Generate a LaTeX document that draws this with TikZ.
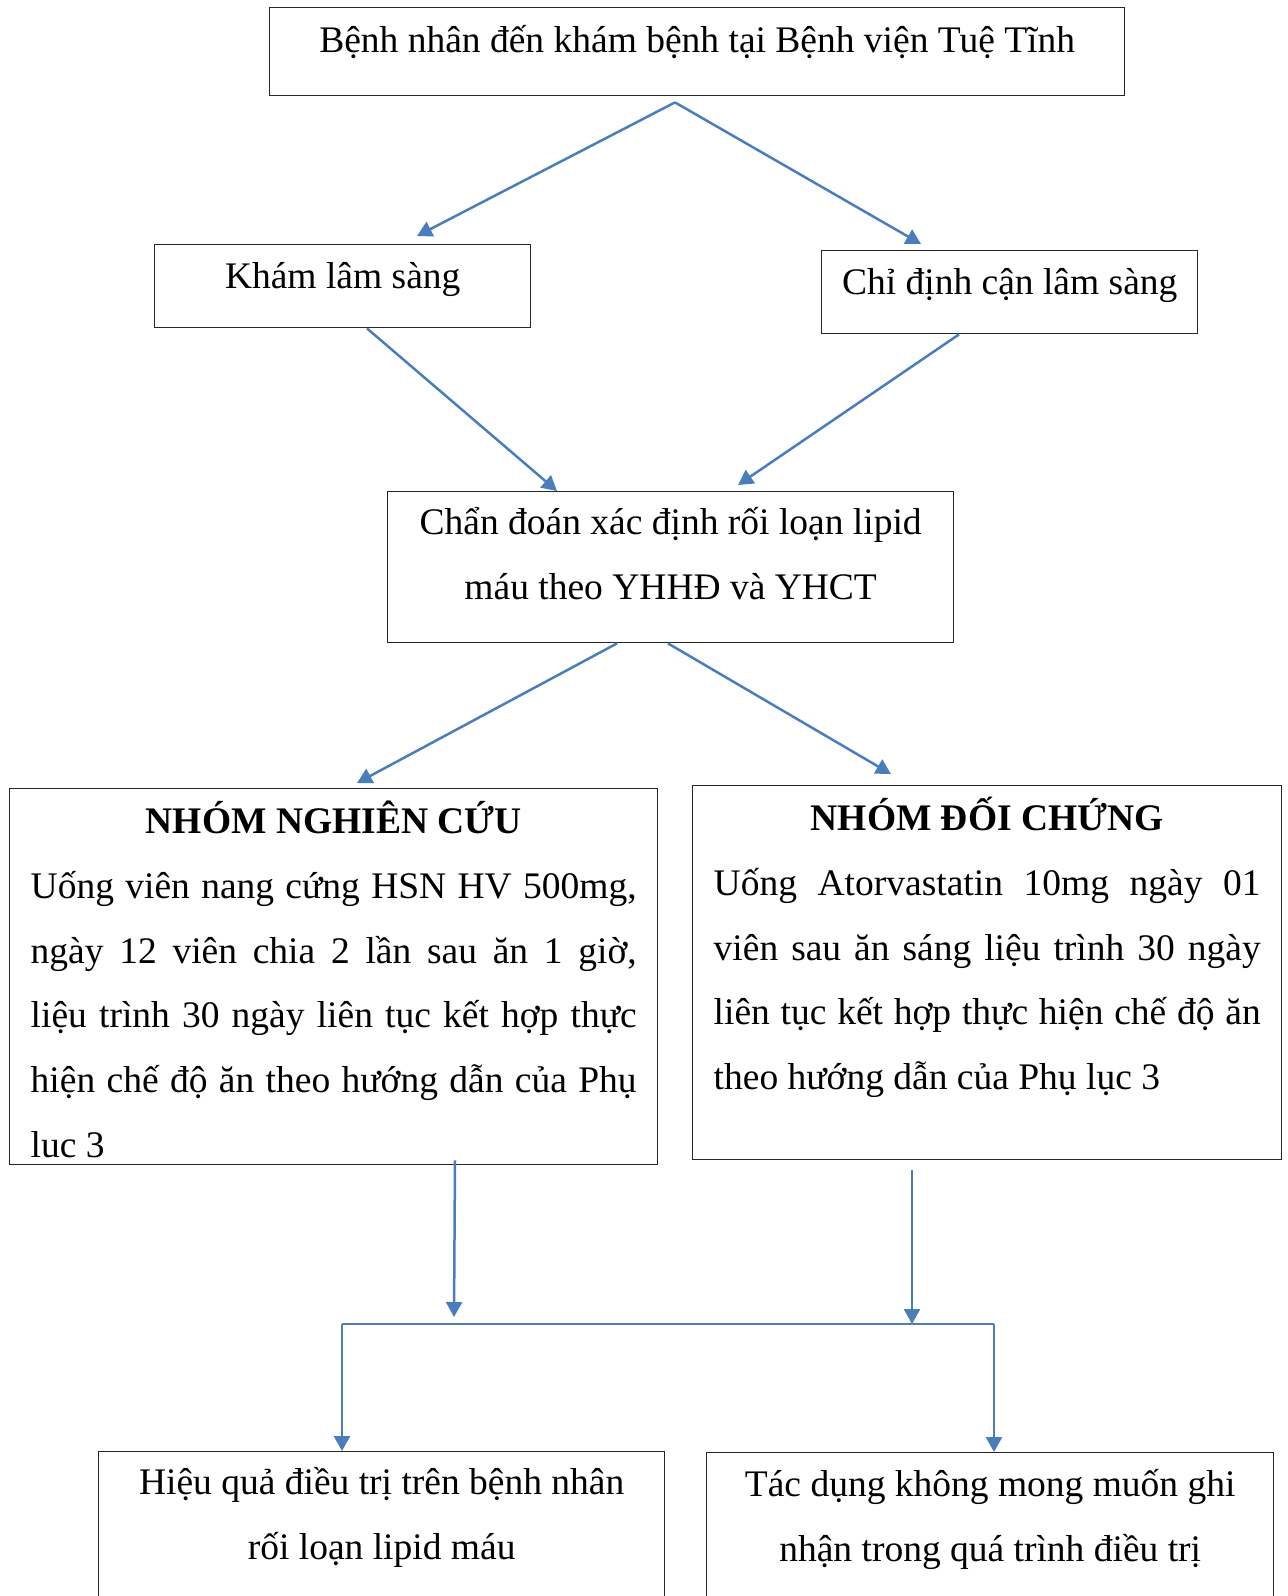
\documentclass[tikz,border=0pt]{standalone}
\usepackage{fontspec}
\setmainfont{Liberation Serif}
\usetikzlibrary{arrows.meta,calc}
\definecolor{arrowblue}{RGB}{74,126,187}
\tikzset{
  box/.style={draw=black!85, line width=1.4pt, inner xsep=#1, inner ysep=0pt, anchor=north west,
              font=\fontsize{37.5pt}{64.7pt}\selectfont},
  box/.default=0pt,
  conn/.style={draw=arrowblue, line width=2.5pt, -{Triangle[length=15pt,width=16pt]}},
  bar/.style={draw=arrowblue, line width=2.5pt}
}
\begin{document}
\begin{tikzpicture}[x=1pt,y=-1pt]
\path[use as bounding box] (0,0) rectangle (1288,1596);
\clip (0,0) rectangle (1288,1596);

\node[box] (top) at (269,7) {\parbox[c][88pt][t]{855pt}{\centering\rule{0pt}{45pt}Bệnh nhân đến khám bệnh tại Bệnh viện Tuệ Tĩnh}};
\node[box] (kham) at (154,244) {\parbox[c][83pt][t]{376pt}{\centering\rule{0pt}{44pt}Khám lâm sàng}};
\node[box] (chidinh) at (821,250) {\parbox[c][83pt][t]{376pt}{\centering\rule{0pt}{44pt}Chỉ định cận lâm sàng}};
\node[box] (chan) at (387,491) {\parbox[c][151pt][t]{566pt}{\centering\rule{0pt}{43pt}Chẩn đoán xác định rối loạn lipid\\máu theo YHHĐ và YHCT}};
\node[box=21pt] (nc) at (9,788) {\parbox[c][376pt][t]{606pt}{{\centering\bfseries\rule{0pt}{45pt}NHÓM NGHIÊN CỨU\par}
Uống viên nang cứng HSN HV 500mg,\linebreak ngày 12 viên chia 2 lần sau ăn 1 giờ,\linebreak liệu trình 30 ngày liên tục kết hợp thực\linebreak hiện chế độ ăn theo hướng dẫn của Phụ\linebreak luc 3}};
\node[box=21pt] (dc) at (692,785) {\parbox[c][374pt][t]{547pt}{{\centering\bfseries\rule{0pt}{45pt}NHÓM ĐỐI CHỨNG\par}
Uống Atorvastatin 10mg ngày 01\linebreak viên sau ăn sáng liệu trình 30 ngày\linebreak liên tục kết hợp thực hiện chế độ ăn\linebreak theo hướng dẫn của Phụ lục 3}};
\node[box] (hq) at (98,1451) {\parbox[c][200pt][t]{566pt}{\centering\rule{0pt}{43pt}Hiệu quả điều trị trên bệnh nhân\\rối loạn lipid máu}};
\node[box] (td) at (706,1452) {\parbox[c][200pt][t]{567pt}{\centering\rule{0pt}{44pt}Tác dụng không mong muốn ghi\\nhận trong quá trình điều trị}};

\coordinate (split) at ($(top.south west)+(406,6)$);
\draw[conn] (split) -- ($(kham.north west)+(263,-8)$);
\draw[conn] (split) -- ($(chidinh.north west)+(100,-6)$);
\draw[conn] ($(kham.south west)+(213,0)$) -- ($(chan.north west)+(170,0)$);
\draw[conn] ($(chidinh.south west)+(138,0)$) -- ($(chan.north west)+(351,-6)$);
\draw[conn] ($(chan.south west)+(230,0)$) -- ($(nc.north west)+(348,-5)$);
\draw[conn] ($(chan.south west)+(281,0)$) -- ($(dc.north west)+(199,-11)$);

\coordinate (jL) at (342,1324);
\coordinate (jR) at (994,1324);
\coordinate (jA) at (454,1317);
\coordinate (jB) at (912,1324);
\draw[conn] ($(nc.south west)+(446,-5)$) -- (jA);
\draw[conn] ($(dc.south west)+(220,10)$) -- (jB);
\draw[bar] (jL) -- (jR);
\draw[conn] (jL) -- (jL |- hq.north);
\draw[conn] (jR) -- (jR |- td.north);
\end{tikzpicture}
\end{document}
